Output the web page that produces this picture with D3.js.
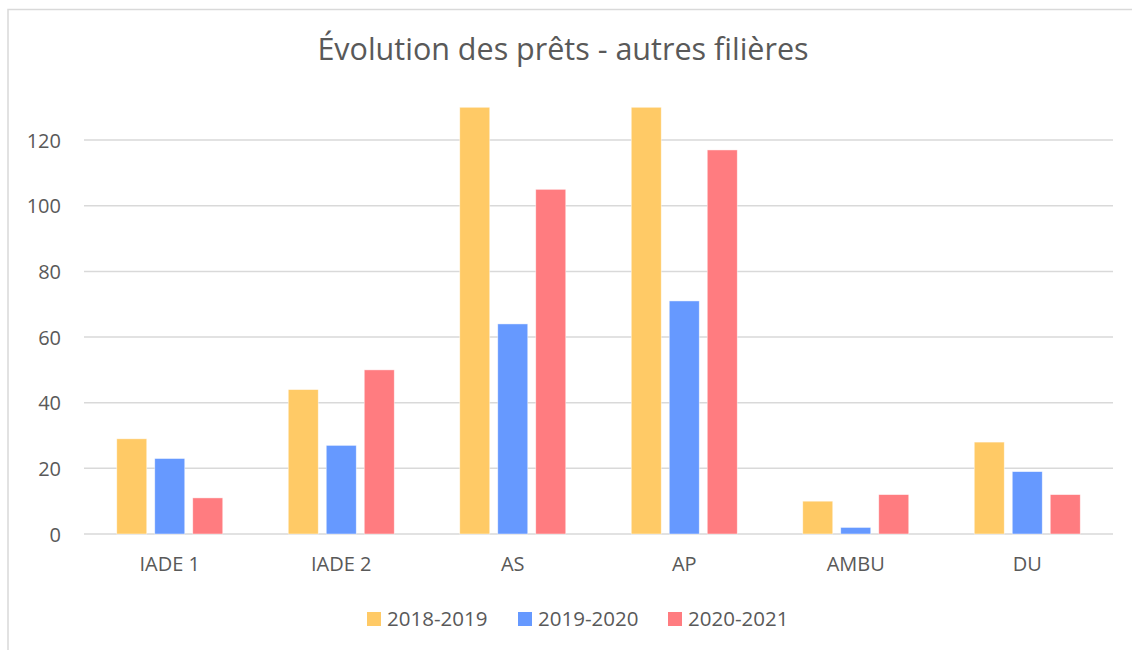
<!DOCTYPE html>
<html>
<head>
<meta charset="utf-8">
<script src="https://d3js.org/d3.v7.min.js"></script>
<style>
  body { margin: 0; background: #fff; }
  text { font-family: "Open Sans", "Liberation Sans", sans-serif; fill: #595959; }
</style>
</head>
<body>
<div id="grafico"></div>
<script>
// données du graphique
var categories = ["IADE 1", "IADE 2", "AS", "AP", "AMBU", "DU"];
var series = ["2018-2019", "2019-2020", "2020-2021"];
var val2018 = [29, 44, 131, 131, 10, 28];
var val2019 = [23, 27, 64, 71, 2, 19];
var val2020 = [11, 50, 105, 117, 12, 12];
var yTicks = [0, 20, 40, 60, 80, 100, 120];
var colores = ["#FFCA66", "#6699FF", "#FF7C80"];

var valores = [val2018, val2019, val2020];

var width = 1132, height = 650;
var margin = { left: 84, right: 19, top: 107, bottom: 116 };

var svg = d3.select("#grafico")
  .append("svg")
  .attr("width", width)
  .attr("height", height);

// cadre du graphique
svg.append("rect")
  .attr("x", 8).attr("y", 9.5)
  .attr("width", width + 20).attr("height", height + 20)
  .attr("fill", "none")
  .attr("stroke", "#d9d9d9")
  .attr("stroke-width", 1.5);

// titre
svg.append("text")
  .attr("x", 563).attr("y", 60)
  .attr("text-anchor", "middle")
  .style("font-size", "30.5px")
  .text("Évolution des prêts - autres filières");

var x0 = d3.scaleBand()
  .domain(categories)
  .range([margin.left, width - margin.right])
  .paddingInner(0)
  .paddingOuter(0);

var x1 = d3.scaleBand()
  .domain(series)
  .range([0, 106])
  .paddingInner(8 / 38);

var y = d3.scaleLinear()
  .domain([0, 130])
  .range([534, 534 - 130 * (393.9 / 120)])
  .clamp(true);

// lignes de grille
svg.append("g")
  .selectAll("line")
  .data(yTicks)
  .enter()
  .append("line")
  .attr("x1", margin.left)
  .attr("x2", width - margin.right)
  .attr("y1", function(d) { return y(d); })
  .attr("y2", function(d) { return y(d); })
  .attr("stroke", "#d9d9d9")
  .attr("stroke-width", 1.5);

// axe Y
var yAxis = svg.append("g")
  .attr("transform", "translate(61,0)")
  .call(d3.axisLeft(y).tickValues(yTicks).tickSize(0).tickPadding(0));
yAxis.select(".domain").remove();
yAxis.selectAll("text")
  .style("font-size", "20px")
  .attr("fill", "#595959")
  .attr("dy", "0.35em");

// axe X
var xAxis = svg.append("g")
  .attr("transform", "translate(0,534)")
  .call(d3.axisBottom(x0).tickSize(0).tickPadding(23));
xAxis.select(".domain").remove();
xAxis.selectAll("text")
  .style("font-size", "20px")
  .attr("fill", "#595959");

// barres
var grupos = svg.append("g")
  .selectAll("g")
  .data(categories)
  .enter()
  .append("g")
  .attr("transform", function(d) { return "translate(" + (x0(d) + (x0.bandwidth() - 106) / 2) + ",0)"; });

grupos.selectAll("rect")
  .data(function(d, i) { return series.map(function(s, j) { return { s: s, v: valores[j][i], c: colores[j] }; }); })
  .enter()
  .append("rect")
  .attr("x", function(d) { return x1(d.s); })
  .attr("y", function(d) { return y(d.v); })
  .attr("width", x1.bandwidth())
  .attr("height", function(d) { return 534 - y(d.v); })
  .attr("fill", function(d) { return d.c; })
  .attr("stroke", "#fff")
  .attr("stroke-opacity", 0.6)
  .attr("stroke-width", 0.75);

// légende
var legX = [367, 518, 668];
var leyenda = svg.append("g")
  .selectAll("g")
  .data(series)
  .enter()
  .append("g")
  .attr("transform", function(d, i) { return "translate(" + legX[i] + ",612)"; });

leyenda.append("rect")
  .attr("width", 14).attr("height", 14)
  .attr("fill", function(d, i) { return colores[i]; });

leyenda.append("text")
  .attr("x", 20).attr("y", 7)
  .attr("dy", "0.35em")
  .style("font-size", "20.5px")
  .text(function(d) { return d; });
</script>
</body>
</html>
